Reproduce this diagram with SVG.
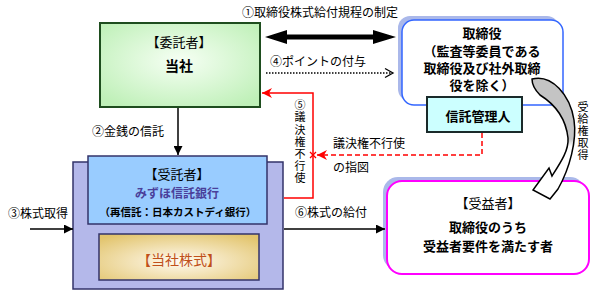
<svg xmlns="http://www.w3.org/2000/svg" width="596" height="299" viewBox="0 0 596 299">
<defs>
<radialGradient id="gGreen" cx="0.5" cy="0.45" r="0.65">
<stop offset="0" stop-color="#f6fff4"/>
<stop offset="1" stop-color="#bff0b8"/>
</radialGradient>
<radialGradient id="gGold" cx="0.5" cy="0.6" r="0.7">
<stop offset="0" stop-color="#fffaf0"/>
<stop offset="1" stop-color="#e2c46c"/>
</radialGradient>
<linearGradient id="gCurve" x1="0" y1="78" x2="0" y2="200" gradientUnits="userSpaceOnUse">
<stop offset="0" stop-color="#c4c4c4"/>
<stop offset="0.5" stop-color="#c4c4c4"/>
<stop offset="0.56" stop-color="#ffffff"/>
<stop offset="1" stop-color="#ffffff"/>
</linearGradient>
<marker id="aBlack" viewBox="0 0 10 10" refX="10" refY="5" markerWidth="9" markerHeight="9" markerUnits="userSpaceOnUse" orient="auto">
<path d="M0,0 L10,5 L0,10 z" fill="#000"/>
</marker>
<marker id="aRed" viewBox="0 0 10 10" refX="10" refY="5" markerWidth="10" markerHeight="10" markerUnits="userSpaceOnUse" orient="auto">
<path d="M0,0 L10,5 L0,10 L3,5 z" fill="#ff0000"/>
</marker>
</defs>
<style>
text{font-family:"Noto Sans CJK JP","Noto Sans CJK SC",sans-serif;fill:#000}
.b{font-weight:bold;font-size:13px;text-anchor:middle}
.l{font-size:12px}
.v{font-size:11px;writing-mode:vertical-rl;text-orientation:upright}
.box{stroke-width:2}
</style>

<g id="label1"><text class="l" x="242" y="17">①取締役株式給付規程の制定</text></g>
<g id="label4"><text class="l" x="270" y="66">④ポイントの付与</text></g>
<g id="label2"><text class="l" x="92" y="136">②金銭の信託</text></g>
<g id="label3"><text class="l" x="8" y="218">③株式取得</text></g>
<g id="label6"><text class="l" x="295" y="217">⑥株式の給付</text></g>
<g id="labelVoteInstr">
<text class="l" x="333" y="148">議決権不行使</text>
<text class="l" x="333" y="172">の指図</text>
</g>
<g id="label5"><text class="v" x="300" y="99.5" style="letter-spacing:1.2px">⑤議決権不行使</text></g>
<g id="labelJukyu"><text class="v" x="583" y="101.5" style="letter-spacing:1px">受給権取得</text></g>

<g id="itakusha">
<rect x="100" y="23" width="160" height="84" fill="url(#gGreen)" stroke="#1e4d1e" class="box"/>
<text class="b" x="179" y="47" style="font-weight:normal">【委託者】</text>
<text class="b" x="179" y="71" style="font-size:14px">当社</text>
</g>

<g id="torishimariyaku">
<rect x="398" y="16" width="161" height="85" rx="12" fill="#aab8ea"/>
<rect x="402" y="20" width="161" height="85" rx="12" fill="#fff" stroke="#3366ff" stroke-width="1.5"/>
<text class="b" x="482" y="38">取締役</text>
<text class="b" x="482" y="56">（監査等委員である</text>
<text class="b" x="482" y="73">取締役及び社外取締</text>
<text class="b" x="482" y="90">役を除く）</text>
</g>

<g id="shintakanrinin">
<rect x="427" y="97" width="95" height="35" fill="#ccffff" stroke="#1a2a2a" class="box"/>
<text class="b" x="478" y="121">信託管理人</text>
</g>

<g id="jutakusha">
<rect x="73" y="162" width="210" height="127" fill="#b4b8ea" stroke="#33336a" stroke-width="1.5"/>
<rect x="88" y="156" width="179" height="68" fill="#99ccff" stroke="#33336a" stroke-width="1.5"/>
<text class="b" x="177" y="179" style="font-weight:normal">【受託者】</text>
<text class="b" x="177" y="198" style="font-size:12px;fill:#4a3f9a">みずほ信託銀行</text>
<text class="b" x="178" y="216" style="font-size:10.5px">（再信託：日本カストディ銀行）</text>
</g>

<g id="toshakabushiki">
<rect x="99" y="234" width="160" height="46" fill="url(#gGold)" stroke="#33336a" stroke-width="1.5"/>
<text class="b" x="179" y="265" style="fill:#c0501a;font-weight:normal;font-size:14px">【当社株式】</text>
</g>

<g id="jueki">
<rect x="383" y="177" width="202" height="93" rx="15" fill="#aab8ea"/>
<rect x="387" y="181" width="202" height="93" rx="15" fill="#fff" stroke="#ff00ff" stroke-width="2"/>
<text class="b" x="488" y="208" style="font-weight:normal">【受益者】</text>
<text class="b" x="488" y="232">取締役のうち</text>
<text class="b" x="488" y="251">受益者要件を満たす者</text>
</g>

<g id="connectors">
<polygon points="265,37 287,30 287,34.5 373,34.5 373,30 396,37 373,44 373,39.5 287,39.5 287,44" fill="#000"/>
<line x1="266" y1="73" x2="392" y2="73" stroke="#000" stroke-width="1.5" stroke-dasharray="1.5,1.5"/>
<polyline points="385,68.5 393,73 385,77.5" fill="none" stroke="#000" stroke-width="1.3"/>
<line x1="178" y1="108" x2="178" y2="155" stroke="#000" stroke-width="1.5" marker-end="url(#aBlack)"/>
<line x1="30" y1="229" x2="73" y2="229" stroke="#000" stroke-width="1.5" marker-end="url(#aBlack)"/>
<line x1="284" y1="229" x2="385" y2="229" stroke="#000" stroke-width="1.5" marker-end="url(#aBlack)"/>
<polyline points="284,198 313,198 313,93 262,93" fill="none" stroke="#ff0000" stroke-width="1.5" marker-end="url(#aRed)"/>
<polyline points="482,133 482,155 317,155" fill="none" stroke="#ff0000" stroke-width="1.5" stroke-dasharray="5,3" marker-end="url(#aRed)"/>
<path d="M310,152 L316,158 M316,152 L310,158" stroke="#ff0000" stroke-width="1.3"/>
<path d="M532,79 C552,74 570,95 574,120 C577,140 570,168 558,189 L550,199 L533,190 L549,168 L552,176 C561,162 569,150 568,138 C566,120 556,105 540,95 C535,90 532,85 532,79 Z" fill="url(#gCurve)" stroke="#000" stroke-width="1.5" stroke-linejoin="miter"/>
</g>
</svg>
